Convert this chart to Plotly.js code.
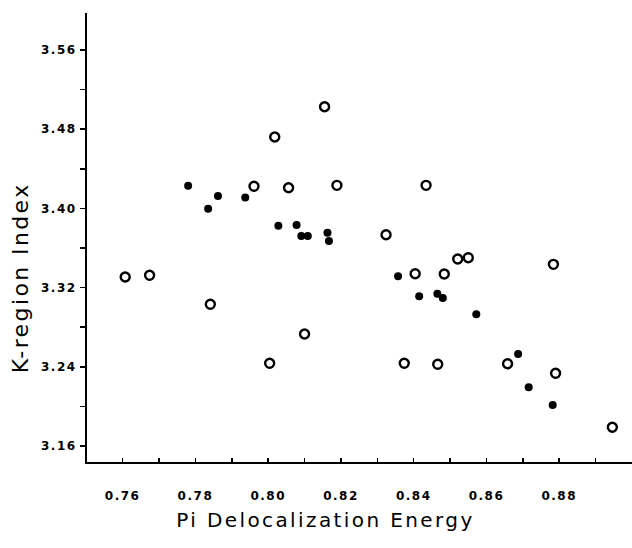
<!DOCTYPE html>
<html>
<head>
<meta charset="utf-8">
<script src="https://cdn.plot.ly/plotly-3.0.1.min.js"></script>
<style>
html,body{margin:0;padding:0;background:#fff;}
#chart{width:632px;height:548px;}
#chart .xtick text, #chart .ytick text{letter-spacing:1.5px;}
#chart .annotation-text{letter-spacing:2.4px;}
#chart .annotation:nth-of-type(2) .annotation-text{letter-spacing:3px;}
</style>
</head>
<body>
<div id="chart"></div>
<script>
// Open circles
const openX = [0.7607, 0.7674, 0.7841, 0.7961, 0.8004, 0.8018, 0.8056, 0.8100, 0.8155, 0.8189, 0.8324, 0.8374, 0.8404, 0.8434, 0.8466, 0.8484, 0.8521, 0.8550, 0.8658, 0.8784, 0.8790, 0.8946];
const openY = [3.3307, 3.3324, 3.3031, 3.4223, 3.2435, 3.4721, 3.4209, 3.2731, 3.5027, 3.4233, 3.3734, 3.2435, 3.3340, 3.4233, 3.2425, 3.3337, 3.3489, 3.3502, 3.2431, 3.3435, 3.2334, 3.1789];
// Filled circles
const filledX = [0.7780, 0.7835, 0.7862, 0.7937, 0.8028, 0.8078, 0.8091, 0.8109, 0.8163, 0.8167, 0.8357, 0.8415, 0.8465, 0.8480, 0.8572, 0.8687, 0.8716, 0.8782];
const filledY = [3.4229, 3.3997, 3.4125, 3.4110, 3.3825, 3.3832, 3.3721, 3.3721, 3.3755, 3.3671, 3.3314, 3.3112, 3.3138, 3.3095, 3.2930, 3.2529, 3.2193, 3.2014];

const xTitle = 'Pi Delocalization Energy';
const yTitle = 'K-region Index';

const traces = [
  {x: openX, y: openY, type: 'scatter', mode: 'markers', name: 'open',
   marker: {symbol: 'circle-open', size: 9, color: '#000', line: {width: 2.4, color: '#000'}}},
  {x: filledX, y: filledY, type: 'scatter', mode: 'markers', name: 'filled',
   marker: {symbol: 'circle', size: 8, color: '#000', line: {width: 0}}}
];

const tickFont = {family: 'DejaVu Sans', size: 12, color: '#000', weight: 'bold'};

const layout = {
  width: 632, height: 548,
  margin: {l: 87, r: 0, t: 13, b: 86},
  paper_bgcolor: '#fff', plot_bgcolor: '#fff',
  showlegend: false,
  font: {family: 'DejaVu Sans', color: '#000'},
  xaxis: {
    range: [0.7502, 0.9000],
    tick0: 0.76, dtick: 0.02, tickformat: '.2f',
    ticks: 'inside', ticklen: 4, tickwidth: 1.5, tickcolor: '#000',
    minor: {dtick: 0.01, tick0: 0.75, ticks: 'inside', ticklen: 4, tickwidth: 1.5, tickcolor: '#000'},
    showline: true, linecolor: '#000', linewidth: 2,
    showgrid: false, zeroline: false,
    tickfont: tickFont, ticklabelstandoff: 22
  },
  yaxis: {
    range: [3.1438, 3.5974],
    tick0: 3.16, dtick: 0.08, tickformat: '.2f',
    ticks: 'outside', ticklen: 5, tickwidth: 1.5, tickcolor: '#000',
    minor: {dtick: 0.04, tick0: 3.16, ticks: 'outside', ticklen: 5, tickwidth: 1.5, tickcolor: '#000'},
    showline: true, linecolor: '#000', linewidth: 2,
    showgrid: false, zeroline: false,
    tickfont: tickFont, ticklabelstandoff: 1
  },
  annotations: [
    {text: xTitle, xref: 'paper', yref: 'paper', x: 0.4376, y: -0.13, xanchor: 'center', yanchor: 'middle',
     showarrow: false, font: {family: 'DejaVu Sans', size: 20, color: '#000'}},
    {text: yTitle, xref: 'paper', yref: 'paper', x: -0.122, y: 0.41, xanchor: 'center', yanchor: 'middle',
     textangle: -90, showarrow: false, font: {family: 'DejaVu Sans', size: 22, color: '#000'}}
  ]
};

Plotly.newPlot('chart', traces, layout, {displayModeBar: false, staticPlot: true});
</script>
</body>
</html>
